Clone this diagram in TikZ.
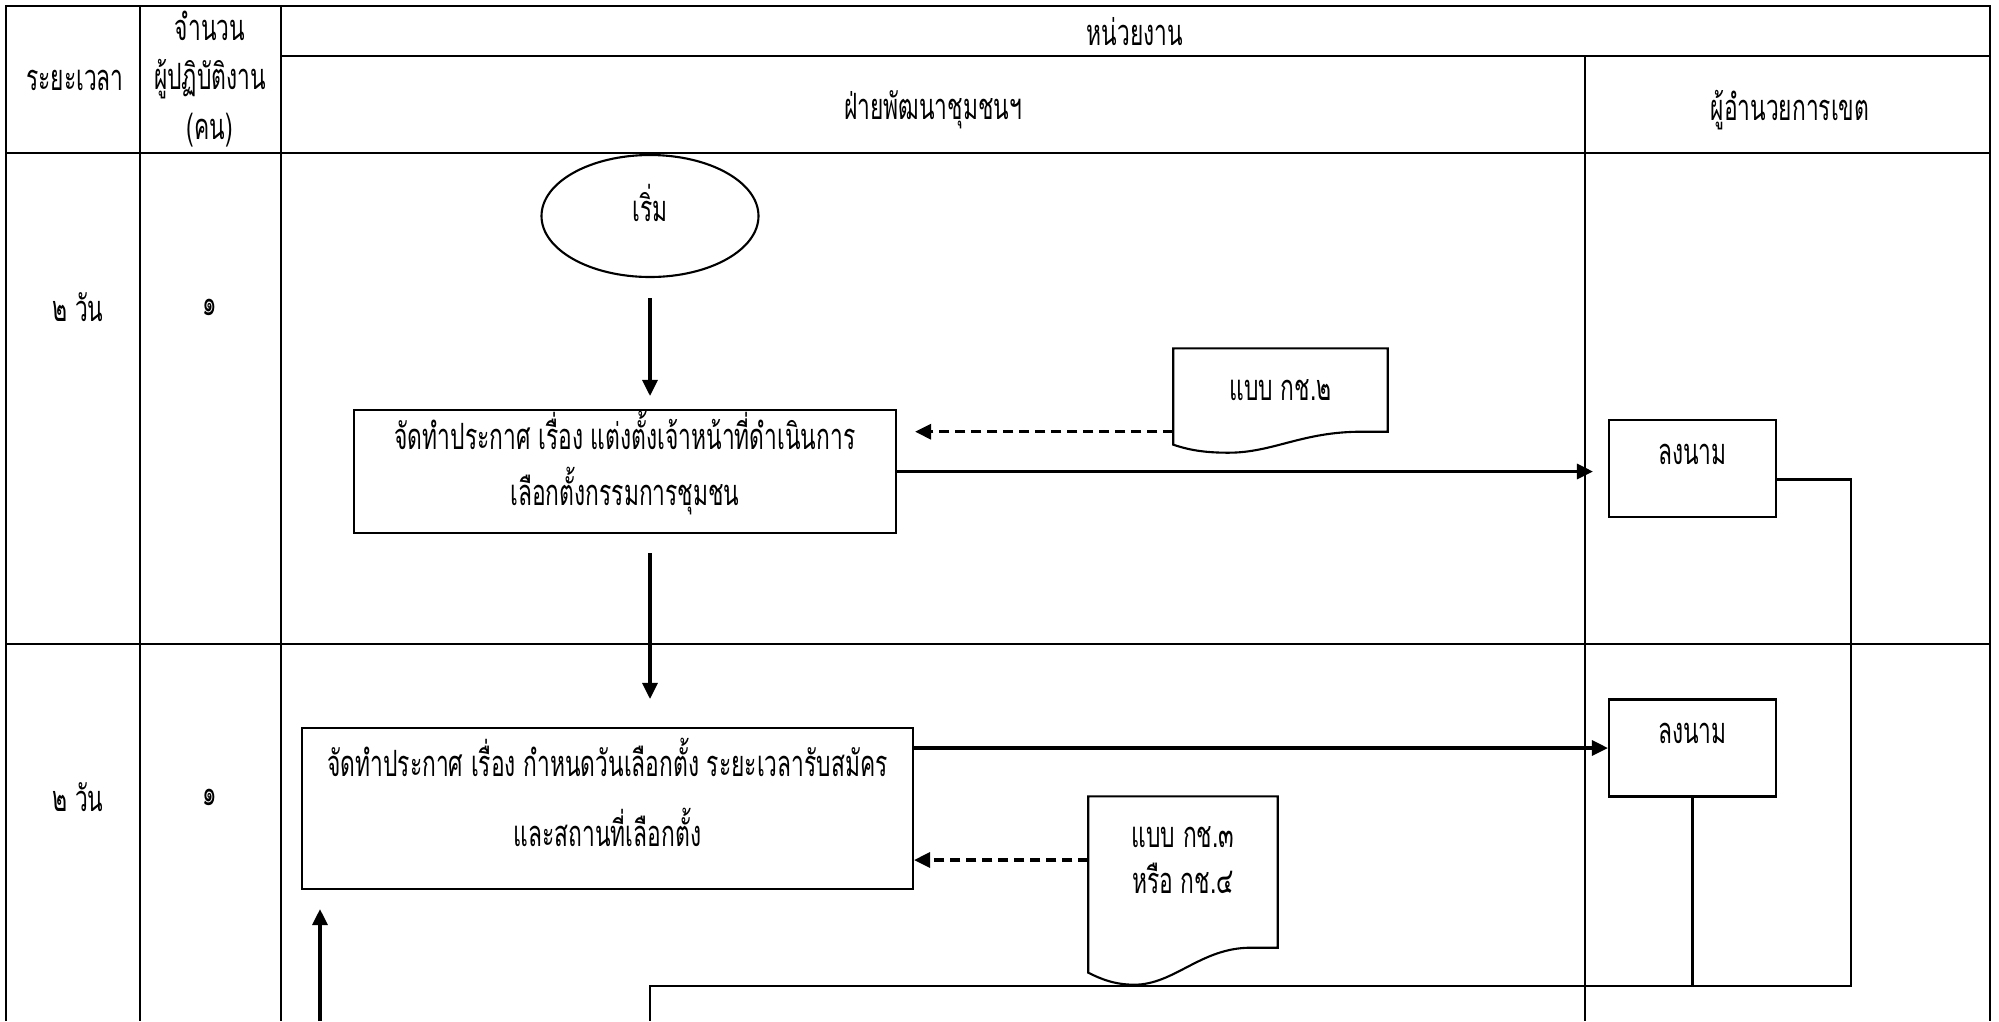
\documentclass[tikz,border=0pt]{standalone}
\usepackage{fontspec}
\newfontfamily\thaifont[Script=Thai,FakeStretch=0.63]{Loma}
\usetikzlibrary{arrows.meta,shapes.geometric}

\begin{document}
\begin{tikzpicture}[
    font=\thaifont\fontsize{10.3}{16}\selectfont,
    grid/.style={line width=0.8pt},
    box/.style={draw, line width=0.6pt, align=center, inner sep=2pt},
    term/.style={box, ellipse, minimum width=2.17cm, minimum height=1.22cm, text depth=0.26cm},
    sign/.style={box, minimum width=1.67cm, minimum height=0.97cm,
      text height=0.25cm, text depth=0.34cm},
    doc/.style={align=center, inner sep=0pt},
    arr/.style={-{Triangle[length=1.6mm,width=1.5mm]}, line width=0.9pt},
    dasharr/.style={arr, dash pattern=on 1mm off 0.6mm},
    link/.style={line width=0.6pt}
  ]
    \useasboundingbox (0,0) rectangle (19.99,-10.21);

    % table
    \draw[grid] (0.06,-10.21) -- (0.06,-0.06) -- (19.90,-0.06) -- (19.90,-10.21);
    \draw[grid] (1.40,-0.06) -- (1.40,-10.21);
    \draw[grid] (2.81,-0.06) -- (2.81,-10.21);
    \draw[grid] (15.85,-0.56) -- (15.85,-10.21);
    \draw[grid] (2.81,-0.56) -- (19.90,-0.56);
    \draw[grid] (0.06,-1.53) -- (19.90,-1.53);
    \draw[grid] (0.06,-6.44) -- (19.90,-6.44);

    \node (hTime) at (0.75,-0.80) {ระยะเวลา};
    \node[align=center, font=\thaifont\fontsize{10.3}{14}\selectfont] (hStaff) at (2.10,-0.79) {จำนวน\\ผู้ปฏิบัติงาน\\(คน)};
    \node (hUnit) at (11.35,-0.32) {หน่วยงาน};
    \node (hDept) at (9.33,-1.10) {ฝ่ายพัฒนาชุมชนฯ};
    \node (hDir) at (17.90,-1.10) {ผู้อำนวยการเขต};

    \node (t1) at (0.78,-3.07) {๒ วัน};
    \node (n1) at (2.10,-3.07) {๑};
    \node (t2) at (0.78,-7.97) {๒ วัน};
    \node (n2) at (2.10,-7.97) {๑};

    % flow
    \node[term] (st) at (6.50,-2.16) {เริ่ม};
    \node[box, minimum width=5.42cm, minimum height=1.23cm, inner ysep=0pt, text depth=0.26cm] (a1) at (6.25,-4.715)
      {จัดทำประกาศ เรื่อง แต่งตั้งเจ้าหน้าที่ดำเนินการ\\เลือกตั้งกรรมการชุมชน};
    \node[box, minimum width=6.11cm, minimum height=1.61cm, text depth=0.32cm] (a2) at (6.075,-8.085)
      {จัดทำประกาศ เรื่อง กำหนดวันเลือกตั้ง ระยะเวลารับสมัคร\\[4pt]และสถานที่เลือกตั้ง};
    \node[sign] (s1) at (16.925,-4.685) {ลงนาม};
    \node[sign] (s2) at (16.925,-7.48) {ลงนาม};
    \node[doc, minimum width=2.13cm, minimum height=0.82cm] (f1) at (12.805,-3.90) {แบบ กช.๒};
    \node[doc, minimum width=1.88cm, minimum height=1.26cm, font=\thaifont\fontsize{10.3}{13}\selectfont]
      (f2) at (11.83,-8.60) {แบบ กช.๓\\หรือ กช.๔};

    % document outlines
    \draw[link] (f1.south west) |- (f1.north east) -- (f1.south east) -- ++(-0.26,0)
      .. controls +(-0.6,0) and +(0.45,0) .. ([shift={(0.55,-0.21)}]f1.south west)
      .. controls +(-0.25,0) and +(0.15,-0.05) .. ([yshift=-0.13cm]f1.south west) -- cycle;
    \draw[link] (f2.south west) |- (f2.north east) -- ([yshift=-0.24cm]f2.south east) -- ++(-0.27,0)
      .. controls +(-0.5,0) and +(0.4,0) .. ([shift={(0.46,-0.61)}]f2.south west)
      .. controls +(-0.2,0) and +(0.12,-0.06) .. ([yshift=-0.49cm]f2.south west) -- cycle;

    \draw[arr, shorten <=0.2cm, shorten >=0.13cm] (st.south) -- (st.south |- a1.north);
    \draw[dasharr, shorten >=0.18cm] (f1.south west) -- (f1.south west -| a1.east);
    \draw[arr, shorten >=0.15cm] (a1.east) -- (a1.east -| s1.west);
    \draw[arr, shorten <=0.19cm, shorten >=0.28cm] (a1.south -| st) -- (a2.north -| st);
    \draw[arr] (s2.west -| a2.east) -- (s2.west);
    \draw[dasharr] (f2.west) -- (f2.west -| a2.east);

    \coordinate (jn) at (18.51,-9.86);
    \coordinate (bot) at (0,-10.21);
    \coordinate (up) at (3.20,-10.21);
    \draw[link] ([yshift=-0.11cm]s1.east) -| (jn) -- (jn -| st) -- (st |- bot);
    \draw[link] (s2.south) -- (s2.south |- jn);
    \draw[arr, shorten >=0.19cm] (up) -- (up |- a2.south);
\end{tikzpicture}
\end{document}
